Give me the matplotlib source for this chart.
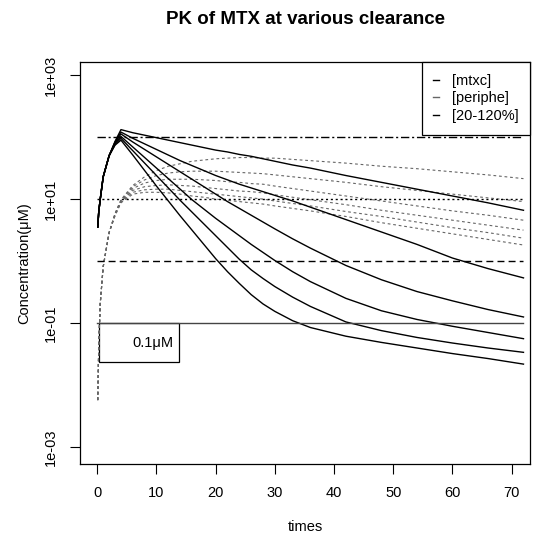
import numpy as np
import matplotlib
matplotlib.use("Agg")
import matplotlib.pyplot as plt
from matplotlib.lines import Line2D
from matplotlib.patches import Rectangle

plt.rcParams['font.family'] = ['Liberation Sans', 'DejaVu Sans']

# time grid (hours)
times = [0.08, 0.25, 0.5, 1, 2, 3, 4, 6, 8, 10, 12, 14, 16, 18, 20, 22, 24, 26, 28,
         30, 33, 36, 42, 48, 54, 60, 66, 72]

# central compartment [mtxc], log10 concentration (uM), clearance 20%..120%
mtxc_20 = [0.55, 0.80, 1.00, 1.36, 1.70, 1.93, 2.12, 2.07, 2.03, 1.99, 1.95, 1.91, 1.87, 1.83,
           1.79, 1.76, 1.72, 1.69, 1.65, 1.61, 1.55, 1.50, 1.38, 1.27, 1.16, 1.05, 0.94, 0.82]
mtxc_40 = [0.55, 0.80, 1.00, 1.36, 1.70, 1.92, 2.08, 1.98, 1.89, 1.80, 1.71, 1.62, 1.54, 1.46,
           1.38, 1.31, 1.24, 1.18, 1.12, 1.06, 0.97, 0.87, 0.67, 0.47, 0.27, 0.05, -0.12, -0.27]
mtxc_60 = [0.55, 0.80, 1.00, 1.36, 1.70, 1.91, 2.05, 1.92, 1.80, 1.68, 1.56, 1.44, 1.32, 1.20,
           1.08, 0.96, 0.85, 0.74, 0.63, 0.52, 0.36, 0.21, -0.07, -0.30, -0.49, -0.64, -0.78, -0.90]
mtxc_80 = [0.55, 0.80, 1.00, 1.36, 1.70, 1.90, 2.01, 1.84, 1.67, 1.50, 1.33, 1.16, 0.99, 0.84,
           0.69, 0.55, 0.41, 0.27, 0.14, 0.01, -0.17, -0.33, -0.60, -0.80, -0.94, -1.05, -1.15, -1.25]
mtxc_100 = [0.55, 0.80, 1.00, 1.36, 1.70, 1.88, 1.98, 1.78, 1.58, 1.38, 1.18, 0.98, 0.79, 0.60,
            0.41, 0.22, 0.03, -0.14, -0.28, -0.41, -0.58, -0.73, -0.98, -1.12, -1.23, -1.32, -1.40, -1.47]
mtxc_120 = [0.55, 0.80, 1.00, 1.36, 1.70, 1.87, 1.95, 1.71, 1.46, 1.21, 0.97, 0.73, 0.50, 0.27,
            0.04, -0.17, -0.36, -0.54, -0.69, -0.81, -0.96, -1.07, -1.21, -1.31, -1.40, -1.49, -1.57, -1.66]

# peripheral compartment [periphe], log10 concentration (uM)
peri_20 = [-2.24, -1.35, -0.68, -0.09, 0.46, 0.77, 0.99, 1.22, 1.36, 1.46, 1.53, 1.57, 1.61, 1.63,
           1.65, 1.66, 1.67, 1.67, 1.66, 1.66, 1.64, 1.62, 1.58, 1.53, 1.49, 1.44, 1.39, 1.33]
peri_40 = [-2.24, -1.35, -0.68, -0.09, 0.46, 0.76, 0.98, 1.20, 1.31, 1.38, 1.42, 1.44, 1.45, 1.45,
           1.45, 1.44, 1.43, 1.42, 1.41, 1.39, 1.36, 1.33, 1.27, 1.20, 1.14, 1.08, 1.02, 0.96]
peri_60 = [-2.24, -1.35, -0.68, -0.09, 0.46, 0.76, 0.97, 1.17, 1.26, 1.30, 1.32, 1.32, 1.32, 1.31,
           1.30, 1.28, 1.27, 1.25, 1.24, 1.21, 1.17, 1.13, 1.05, 0.97, 0.89, 0.81, 0.74, 0.66]
peri_80 = [-2.24, -1.35, -0.68, -0.09, 0.46, 0.75, 0.96, 1.14, 1.20, 1.22, 1.23, 1.22, 1.21, 1.19,
           1.17, 1.15, 1.13, 1.12, 1.10, 1.07, 1.03, 0.99, 0.91, 0.82, 0.74, 0.66, 0.58, 0.50]
peri_100 = [-2.24, -1.35, -0.68, -0.09, 0.46, 0.74, 0.95, 1.11, 1.15, 1.16, 1.16, 1.14, 1.12, 1.10,
            1.08, 1.06, 1.04, 1.02, 1.00, 0.97, 0.93, 0.89, 0.80, 0.72, 0.63, 0.54, 0.46, 0.37]
peri_120 = [-2.24, -1.35, -0.68, -0.09, 0.46, 0.73, 0.94, 1.08, 1.11, 1.11, 1.10, 1.08, 1.05, 1.03,
            1.00, 0.98, 0.96, 0.94, 0.92, 0.89, 0.85, 0.81, 0.72, 0.62, 0.53, 0.44, 0.35, 0.26]

# reference thresholds (uM)
thresholds = [100, 10, 1, 0.1]
threshold_x = [0, 72]

legend_labels = ["[mtxc]", "[periphe]", "[20-120%]"]
box_label = "0.1\u03bcM"

xticks = [0, 10, 20, 30, 40, 50, 60, 70]
yticks = [1e-3, 1e-1, 1e1, 1e3]
ytick_labels = ["1e-03", "1e-01", "1e+01", "1e+03"]

W, H = 535, 537
fig = plt.figure(figsize=(W / 100, H / 100), dpi=100)
ax = fig.add_axes([80 / W, 1 - 464 / H, 450 / W, 402 / H])

t = np.array(times)
central = [mtxc_20, mtxc_40, mtxc_60, mtxc_80, mtxc_100, mtxc_120]
periph = [peri_20, peri_40, peri_60, peri_80, peri_100, peri_120]

for p in periph:
    ax.plot(t, 10 ** np.array(p), color="#666666", lw=0.8, ls=(0, (2.5, 2.5)))
for c in central:
    ax.plot(t, 10 ** np.array(c), color="black", lw=1.0, ls="-")

styles = [(0, (6, 2, 1.5, 2)), (0, (1.5, 2)), (0, (5, 3)), "-"]
colors = ["black", "black", "black", "#444444"]
for yv, st, col in zip(thresholds, styles, colors):
    ax.plot(threshold_x, [yv, yv], color=col, lw=1.0, ls=st)

ax.set_yscale("log")
ax.set_xlim(-2.92, 73.1)
ax.set_ylim(10 ** -3.27, 10 ** 3.21)
ax.set_xticks(xticks)
ax.set_xticklabels([str(v) for v in xticks], fontsize=10.5)
ax.set_yticks(yticks)
ax.set_yticklabels(ytick_labels, fontsize=10.5, rotation=90, va="center")
ax.yaxis.set_minor_locator(matplotlib.ticker.NullLocator())
ax.tick_params(axis="both", direction="out", length=7, width=0.8, pad=9)
for s in ax.spines.values():
    s.set_linewidth(0.9)

ax.set_xlabel("times", fontsize=10.5, labelpad=14)
ax.set_ylabel("Concentration(\u03bcM)", fontsize=10.5, labelpad=9)
ax.set_title("PK of MTX at various clearance", fontsize=13.5, fontweight="bold", pad=27)

handles = [Line2D([0], [0], color="black", lw=1, ls="-"),
           Line2D([0], [0], color="#666666", lw=1, ls="-"),
           Line2D([0], [0], color="black", lw=1, ls="-")]
leg = ax.legend(handles, legend_labels, loc="upper right", fontsize=10.5,
                handlelength=0.35, handletextpad=0.9, borderpad=0.8, labelspacing=0.25,
                frameon=True, fancybox=False, borderaxespad=0.0, framealpha=1.0)
leg.get_frame().set_edgecolor("black")
leg.get_frame().set_linewidth(0.9)

# 0.1 uM label box (data coords)
ax.add_patch(Rectangle((0.3, 10 ** -1.63), 13.5, 0.1 - 10 ** -1.63, fill=False,
                       edgecolor="black", lw=0.9))
ax.text(9.4, 10 ** -1.32, box_label, fontsize=10.5, ha="center", va="center")

fig.savefig("out.png", dpi=100)
